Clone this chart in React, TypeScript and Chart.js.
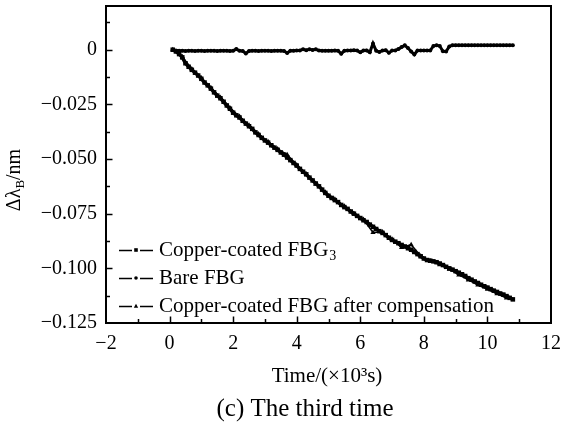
import React, { useEffect, useRef } from 'react';
import { Chart, registerables } from 'chart.js';
Chart.register(...registerables);

const FONT = 'Liberation Serif';

// Sampling times (×10^3 s)
const TIME = [
  0.1, 0.2, 0.3, 0.4, 0.5, 0.6, 0.7, 0.8, 0.9, 1.0,
  1.1, 1.2, 1.3, 1.4, 1.5, 1.6, 1.7, 1.8, 1.9, 2.0,
  2.1, 2.2, 2.3, 2.4, 2.5, 2.6, 2.7, 2.8, 2.9, 3.0,
  3.1, 3.2, 3.3, 3.4, 3.5, 3.6, 3.7, 3.8, 3.9, 4.0,
  4.1, 4.2, 4.3, 4.4, 4.5, 4.6, 4.7, 4.8, 4.9, 5.0,
  5.1, 5.2, 5.3, 5.4, 5.5, 5.6, 5.7, 5.8, 5.9, 6.0,
  6.1, 6.2, 6.3, 6.4, 6.5, 6.6, 6.7, 6.8, 6.9, 7.0,
  7.1, 7.2, 7.3, 7.4, 7.5, 7.6, 7.7, 7.8, 7.9, 8.0,
  8.1, 8.2, 8.3, 8.4, 8.5, 8.6, 8.7, 8.8, 8.9, 9.0,
  9.1, 9.2, 9.3, 9.4, 9.5, 9.6, 9.7, 9.8, 9.9, 10.0,
  10.1, 10.2, 10.3, 10.4, 10.5, 10.6, 10.7, 10.8,
];

// Copper-coated FBG3 wavelength shift (nm)
const COPPER = [
  0.0000, -0.0008, -0.0020, -0.0035, -0.0062, -0.0078, -0.0092, -0.0105, -0.0118, -0.0133,
  -0.0150, -0.0163, -0.0178, -0.0195, -0.0210, -0.0222, -0.0238, -0.0255, -0.0270, -0.0288,
  -0.0300, -0.0310, -0.0325, -0.0338, -0.0350, -0.0362, -0.0378, -0.0390, -0.0403, -0.0415,
  -0.0425, -0.0437, -0.0448, -0.0458, -0.0470, -0.0480, -0.0493, -0.0505, -0.0518, -0.0530,
  -0.0545, -0.0558, -0.0570, -0.0585, -0.0598, -0.0612, -0.0625, -0.0640, -0.0655, -0.0668,
  -0.0678, -0.0688, -0.0697, -0.0710, -0.0720, -0.0728, -0.0740, -0.0750, -0.0760, -0.0770,
  -0.0780, -0.0788, -0.0800, -0.0810, -0.0820, -0.0830, -0.0838, -0.0848, -0.0860, -0.0870,
  -0.0878, -0.0885, -0.0893, -0.0900, -0.0908, -0.0915, -0.0925, -0.0935, -0.0945, -0.0955,
  -0.0962, -0.0965, -0.0968, -0.0972, -0.0978, -0.0985, -0.0993, -0.1000, -0.1006, -0.1013,
  -0.1020, -0.1027, -0.1035, -0.1045, -0.1052, -0.1060, -0.1067, -0.1075, -0.1082, -0.1088,
  -0.1095, -0.1102, -0.1108, -0.1115, -0.1120, -0.1127, -0.1135, -0.1142,
];

// Bare FBG wavelength shift (nm)
const BARE = [
  0.0000, -0.0004, -0.0005, -0.0005, -0.0006, -0.0005, -0.0005, -0.0006, -0.0005, -0.0005,
  -0.0006, -0.0005, -0.0005, -0.0005, -0.0006, -0.0005, -0.0005, -0.0005, -0.0006, -0.0005,
  0.0003, -0.0005, -0.0006, -0.0017, -0.0006, -0.0005, -0.0005, -0.0006, -0.0005, -0.0005,
  -0.0005, -0.0006, -0.0005, -0.0005, -0.0005, -0.0006, -0.0015, -0.0005, -0.0005, -0.0004,
  -0.0003, 0.0002, -0.0002, 0.0002, -0.0001, 0.0002, -0.0004, -0.0005, -0.0005, -0.0005,
  -0.0005, -0.0004, -0.0005, -0.0018, -0.0005, -0.0004, -0.0004, -0.0002, -0.0004, -0.0012,
  -0.0004, -0.0003, -0.0012, 0.0028, -0.0005, -0.0010, -0.0004, -0.0002, -0.0014, -0.0004,
  -0.0003, 0.0003, 0.0012, 0.0020, 0.0008, -0.0008, -0.0022, -0.0004, -0.0004, -0.0003,
  -0.0004, -0.0004, 0.0017, 0.0020, 0.0017, -0.0007, -0.0008, 0.0015, 0.0020, 0.0020,
  0.0020, 0.0020, 0.0020, 0.0020, 0.0020, 0.0020, 0.0020, 0.0020, 0.0020, 0.0020,
  0.0020, 0.0020, 0.0020, 0.0020, 0.0020, 0.0020, 0.0020, 0.0020,
];

// Copper-coated FBG after compensation
const TIME_COMP = [
  0.1, 0.4, 0.7, 1.0, 1.3, 1.6, 1.9, 2.2, 2.5, 2.8, 3.1, 3.4,
  3.7, 4.0, 4.3, 4.6, 4.9, 5.2, 5.5, 5.8, 6.1, 6.4, 6.7, 7.0,
  7.3, 7.6, 7.9, 8.2, 8.5, 8.8, 9.1, 9.4, 9.7, 10.0, 10.3, 10.6,
];
const COMP = [
  0.0000, -0.0032, -0.0088, -0.0129, -0.0174, -0.0218, -0.0266, -0.0306, -0.0345, -0.0386, -0.0421, -0.0454,
  -0.0480, -0.0527, -0.0569, -0.0614, -0.0652, -0.0684, -0.0716, -0.0749, -0.0777, -0.0836, -0.0834, -0.0867,
  -0.0905, -0.0892, -0.0944, -0.0966, -0.0983, -0.1004, -0.1030, -0.1053, -0.1076, -0.1096, -0.1116, -0.1136,
];

const X_MIN = -2;
const X_MAX = 12;
const X_STEP = 2;
const Y_MIN = -0.125;
const Y_MAX = 0.02;
const Y_STEP = 0.025;

const LEGEND = [
  { text: 'Copper-coated FBG', sub: '3', style: 'rect' },
  { text: 'Bare FBG', sub: '', style: 'circle' },
  { text: 'Copper-coated FBG after compensation', sub: '', style: 'triangle' },
];

const X_TITLE = 'Time/(×10³s)';
const CAPTION = '(c) The third time';

function fmtY(v: number) {
  if (Math.abs(v) < 1e-9) return '0';
  return (v < 0 ? '−' : '') + Math.abs(v).toFixed(3);
}
function fmtX(v: number) {
  return (v < 0 ? '−' : '') + Math.abs(v);
}

function drawMarker(ctx: CanvasRenderingContext2D, style: string, x: number, y: number, s: number) {
  ctx.beginPath();
  if (style === 'rect') {
    ctx.rect(x - s, y - s, 2 * s, 2 * s);
  } else if (style === 'circle') {
    ctx.arc(x, y, s, 0, Math.PI * 2);
  } else {
    ctx.moveTo(x, y - s * 1.3);
    ctx.lineTo(x + s * 1.2, y + s);
    ctx.lineTo(x - s * 1.2, y + s);
    ctx.closePath();
  }
  ctx.fill();
}

const decorPlugin = {
  id: 'decor',
  afterDraw(chart: any) {
    const ctx: CanvasRenderingContext2D = chart.ctx;
    const { left, right, top, bottom } = chart.chartArea;
    const xs = chart.scales.x;
    const ys = chart.scales.y;
    ctx.save();
    ctx.strokeStyle = '#000';
    ctx.fillStyle = '#000';
    ctx.lineWidth = 2;
    ctx.strokeRect(left, top, right - left, bottom - top);

    ctx.lineWidth = 1.5;
    // x ticks (inward)
    for (let v = X_MIN + 1; v < X_MAX; v += 1) {
      const px = Math.round(xs.getPixelForValue(v)) + 0.5;
      const len = v % X_STEP === 0 ? 6.5 : 4;
      ctx.beginPath();
      ctx.moveTo(px, bottom);
      ctx.lineTo(px, bottom - len);
      ctx.stroke();
    }
    // y ticks (inward)
    const half = Y_STEP / 2;
    for (let k = 1; ; k++) {
      const v = Y_MIN + k * half;
      if (v > Y_MAX + 1e-9) break;
      const py = Math.round(ys.getPixelForValue(v)) + 0.5;
      const len = k % 2 === 0 ? 6.5 : 4;
      ctx.beginPath();
      ctx.moveTo(left, py);
      ctx.lineTo(left + len, py);
      ctx.stroke();
    }

    // legend
    const rowY = [bottom - 73, bottom - 45, bottom - 17];
    const lx = left + 13;
    LEGEND.forEach((item, i) => {
      const y = rowY[i];
      ctx.lineWidth = 1.5;
      ctx.beginPath();
      ctx.moveTo(lx, y + 0.5);
      ctx.lineTo(lx + 13, y + 0.5);
      ctx.moveTo(lx + 21, y + 0.5);
      ctx.lineTo(lx + 34, y + 0.5);
      ctx.stroke();
      drawMarker(ctx, item.style, lx + 17, y, 1.8);
      ctx.font = `21px "${FONT}"`;
      ctx.textBaseline = 'middle';
      ctx.textAlign = 'left';
      const tx = lx + 40;
      ctx.fillText(item.text, tx, y);
      if (item.sub) {
        const w = ctx.measureText(item.text).width;
        ctx.font = `14px "${FONT}"`;
        ctx.fillText(item.sub, tx + w + 1, y + 6);
      }
    });

    // x title and caption
    ctx.font = `21px "${FONT}"`;
    ctx.textAlign = 'center';
    ctx.textBaseline = 'middle';
    ctx.fillText(X_TITLE, 327, 376);
    ctx.font = `25px "${FONT}"`;
    ctx.fillText(CAPTION, 305, 409);

    // y title with subscript
    ctx.translate(15, 180);
    ctx.rotate(-Math.PI / 2);
    ctx.textAlign = 'left';
    ctx.font = `20px "${FONT}"`;
    const a = 'Δλ';
    const b = 'B';
    const c = '/nm';
    const wa = ctx.measureText(a).width;
    const wc = ctx.measureText(c).width;
    ctx.font = `13px "${FONT}"`;
    const wb = ctx.measureText(b).width;
    const total = wa + wb + wc;
    const x0 = -total / 2;
    ctx.font = `20px "${FONT}"`;
    ctx.fillText(a, x0, 0);
    ctx.font = `13px "${FONT}"`;
    ctx.fillText(b, x0 + wa, 6);
    ctx.font = `20px "${FONT}"`;
    ctx.fillText(c, x0 + wa + wb, 0);
    ctx.restore();
  },
};

export default function App() {
  const ref = useRef<HTMLCanvasElement>(null);
  useEffect(() => {
    if (!ref.current) return;
    Chart.defaults.color = '#000';
    const chart = new Chart(ref.current, {
      type: 'line',
      data: {
        datasets: [
          {
            label: 'Copper-coated FBG3',
            data: TIME.map((t, i) => ({ x: t, y: COPPER[i] })),
            borderColor: '#000',
            backgroundColor: '#000',
            borderWidth: 3.5,
            pointStyle: 'rect',
            pointRadius: 3.2,
            pointBorderWidth: 0,
          },
          {
            label: 'Bare FBG',
            data: TIME.map((t, i) => ({ x: t, y: BARE[i] })),
            borderColor: '#000',
            backgroundColor: '#000',
            borderWidth: 3,
            pointStyle: 'circle',
            pointRadius: 2,
            pointBorderWidth: 0,
          },
          {
            label: 'Copper-coated FBG after compensation',
            data: TIME_COMP.map((t, i) => ({ x: t, y: COMP[i] })),
            borderColor: '#000',
            backgroundColor: '#000',
            borderWidth: 1.5,
            pointStyle: 'triangle',
            pointRadius: 3,
            pointBorderWidth: 0,
          },
        ],
      },
      options: {
        animation: false,
        responsive: false,
        layout: { padding: { left: 0, right: 14, top: 6, bottom: 0 } },
        plugins: { legend: { display: false }, tooltip: { enabled: false }, title: { display: false } },
        scales: {
          x: {
            type: 'linear',
            min: X_MIN,
            max: X_MAX,
            grid: { display: false, drawTicks: false },
            border: { display: false },
            ticks: {
              stepSize: X_STEP,
              padding: 9,
              maxRotation: 0,
              font: { family: FONT, size: 20 },
              color: '#000',
              callback: (v: any) => fmtX(Number(v)),
            },
            afterFit: (s: any) => {
              s.height = 105;
              s.paddingLeft = 0;
              s.paddingRight = 0;
            },
          },
          y: {
            type: 'linear',
            min: Y_MIN,
            max: Y_MAX,
            grid: { display: false, drawTicks: false },
            border: { display: false },
            ticks: {
              stepSize: Y_STEP,
              includeBounds: false,
              padding: 9,
              font: { family: FONT, size: 20 },
              color: '#000',
              callback: (v: any) => fmtY(Number(v)),
            },
            afterFit: (s: any) => {
              s.width = 106;
              s.paddingTop = 0;
              s.paddingBottom = 0;
            },
          },
        },
      },
      plugins: [decorPlugin],
    } as any);
    return () => chart.destroy();
  }, []);
  return (
    <div style={{ position: 'absolute', left: 0, top: 0, width: 565, height: 428, background: '#fff' }}>
      <canvas ref={ref} width={565} height={428} style={{ display: 'block' }} />
    </div>
  );
}
